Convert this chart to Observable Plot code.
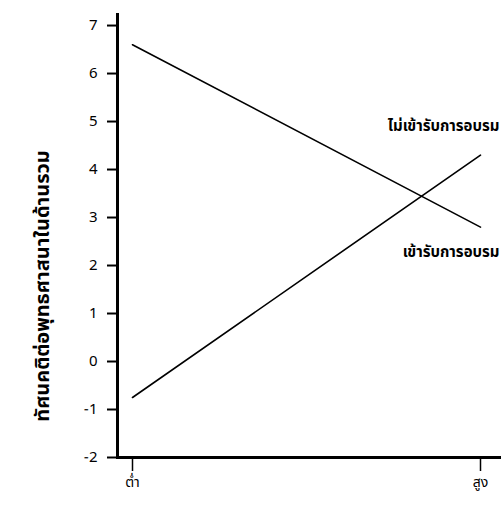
<!DOCTYPE html>
<html>
<head>
<meta charset="utf-8">
<script src="https://cdn.jsdelivr.net/npm/d3@7"></script>
<script src="https://cdn.jsdelivr.net/npm/@observablehq/plot@0.6"></script>
<style>
  html, body { margin: 0; padding: 0; background: #fff; overflow: hidden; }
  #chart svg { font-family: "Noto Sans Thai", "Loma", "Garuda", "DejaVu Sans", sans-serif; }
</style>
</head>
<body>
<div id="chart"></div>
<script>
const levels = ["ต่ำ", "สูง"];
const notAttended = [6.6, 2.8];
const attended = [-0.75, 4.3];
const seriesNames = ["ไม่เข้ารับการอบรม", "เข้ารับการอบรม"];
const yTicks = [-2, -1, 0, 1, 2, 3, 4, 5, 6, 7];
const yTitle = "ทัศนคติต่อพุทธศาสนาในด้านรวม";

const rows = [
  ...levels.map((l, i) => ({level: l, value: notAttended[i], series: seriesNames[0]})),
  ...levels.map((l, i) => ({level: l, value: attended[i], series: seriesNames[1]}))
];

const plot = Plot.plot({
  width: 501,
  height: 515,
  marginLeft: 117,
  marginRight: 0,
  marginTop: 14,
  marginBottom: 58,
  style: {background: "#fff", color: "#000", fontSize: "14px"},
  x: {type: "point", domain: levels, range: [132, 480], padding: 0},
  y: {domain: [-2, 7.23]},
  marks: [
    Plot.axisY({ticks: yTicks, tickSize: 10, tickPadding: 10, strokeWidth: 2, label: null, fontSize: 15}),
    Plot.axisX({tickSize: 14, tickPadding: 6, strokeWidth: 1.5, label: null, fontSize: 14}),
    Plot.frame({anchor: "left", strokeWidth: 3}),
    Plot.frame({anchor: "bottom", strokeWidth: 3}),
    Plot.line(rows, {x: "level", y: "value", z: "series", stroke: "#000", strokeWidth: 1.6}),
    Plot.text([seriesNames[0]], {x: () => levels[1], y: () => 4.9, text: d => d, textAnchor: "end", dx: 19, fontWeight: "bold", fontSize: 15}),
    Plot.text([seriesNames[1]], {x: () => levels[1], y: () => 2.27, text: d => d, textAnchor: "end", dx: 19, fontWeight: "bold", fontSize: 15}),
    Plot.text([yTitle], {frameAnchor: "left", textAnchor: "middle", dx: -75, dy: 50, rotate: -90, text: d => d, fontWeight: "bold", fontSize: 20})
  ]
});
document.getElementById("chart").appendChild(plot);
</script>
</body>
</html>
